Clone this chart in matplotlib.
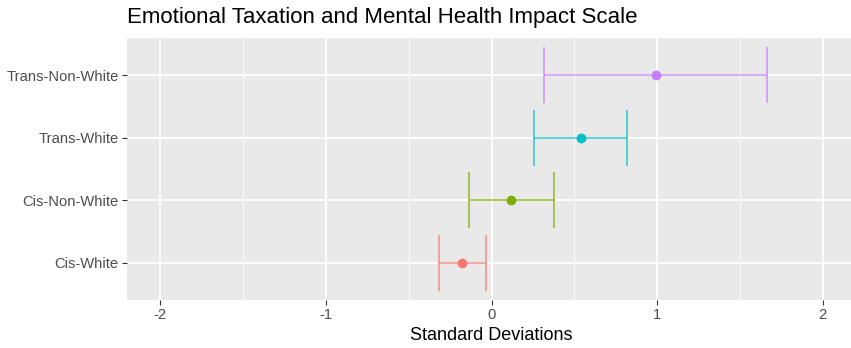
import matplotlib
matplotlib.use("Agg")
import matplotlib.pyplot as plt
from matplotlib.ticker import MultipleLocator

plt.rcParams["font.family"] = ["Liberation Sans", "DejaVu Sans"]

groups = ["Cis-White", "Cis-Non-White", "Trans-White", "Trans-Non-White"]
estimate = [-0.177, 0.119, 0.542, 0.991]
lower = [-0.314, -0.137, 0.258, 0.316]
upper = [-0.036, 0.377, 0.820, 1.663]
colors = ["#F8766D", "#7CAE00", "#00BFC4", "#C77CFF"]

fig = plt.figure(figsize=(8.51, 3.48), dpi=100)
ax = fig.add_axes([127 / 851, 48 / 348, 729 / 851, 262 / 348])
ax.set_facecolor("#E9E9E9")

ypos = list(range(1, len(groups) + 1))
cap = 0.45
for y, est, lo, hi, col in zip(ypos, estimate, lower, upper, colors):
    ax.hlines(y, lo, hi, color=col, lw=1.2, alpha=0.75, zorder=3)
    ax.vlines([lo, hi], y - cap, y + cap, color=col, lw=1.2, alpha=0.75, zorder=3)
    ax.plot(est, y, "o", color=col, markersize=7, markeredgewidth=0, zorder=4)

ax.set_xlim(-2.2, 2.2)
ax.set_ylim(0.4, len(groups) + 0.6)
ax.xaxis.set_major_locator(MultipleLocator(1))
ax.xaxis.set_minor_locator(MultipleLocator(0.5))
ax.set_yticks(ypos)
ax.set_yticklabels(groups)
ax.set_xticks([-2, -1, 0, 1, 2])
ax.set_xticklabels(["-2", "-1", "0", "1", "2"])

ax.grid(which="major", color="white", lw=1.3, zorder=1)
ax.grid(which="minor", axis="x", color="white", lw=0.6, zorder=1)
ax.set_axisbelow(True)
for s in ax.spines.values():
    s.set_visible(False)

ax.tick_params(axis="both", which="major", length=3.5, width=0.8, color="#333333",
               labelcolor="#4D4D4D", labelsize=10.6, pad=2.5)
ax.tick_params(axis="both", which="minor", length=0)

ax.set_xlabel("Standard Deviations", fontsize=13, color="black", labelpad=3)
fig.text(127 / 851, 1 - 18 / 348, "Emotional Taxation and Mental Health Impact Scale",
         fontsize=16, color="black", ha="left", va="center")

fig.savefig("out.png", dpi=100, facecolor="white")
